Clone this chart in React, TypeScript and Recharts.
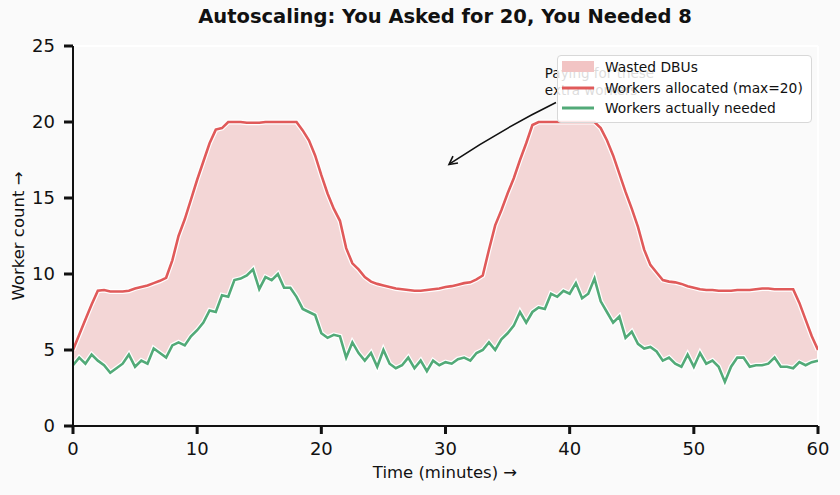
import {
  ComposedChart,
  Area,
  Line,
  XAxis,
  YAxis,
  ReferenceLine,
  ReferenceDot,
} from "recharts";

// sampled every half minute, 0 .. 60
const STEP_MINUTES = 0.5;

const allocated = [
  5.0, 6.0, 7.0, 8.0, 8.9, 8.95, 8.85, 8.85, 8.85, 8.9,
  9.05, 9.15, 9.25, 9.4, 9.55, 9.75, 10.9, 12.5, 13.6, 14.9,
  16.2, 17.4, 18.6, 19.5, 19.6, 20.0, 20.0, 20.0, 19.95, 19.95,
  19.95, 20.0, 20.0, 20.0, 20.0, 20.0, 20.0, 19.45, 18.8, 17.8,
  16.5, 15.3, 14.3, 13.5, 11.7, 10.7, 10.3, 9.8, 9.5, 9.35,
  9.25, 9.15, 9.05, 9.0, 8.95, 8.9, 8.9, 8.95, 9.0, 9.05,
  9.15, 9.2, 9.3, 9.4, 9.45, 9.65, 9.9, 11.6, 13.2, 14.2,
  15.3, 16.3, 17.5, 18.6, 19.8, 20.0, 20.0, 20.0, 20.0, 20.0,
  20.0, 20.0, 20.0, 20.0, 20.0, 19.6, 18.8, 17.8, 16.6, 15.4,
  14.3, 13.1, 11.6, 10.6, 10.1, 9.6, 9.5, 9.45, 9.35, 9.2,
  9.1, 9.0, 8.95, 8.95, 8.9, 8.9, 8.9, 8.95, 8.95, 8.95,
  9.0, 9.05, 9.05, 9.0, 9.0, 9.0, 9.0, 8.1, 7.0, 5.9,
  5.0,
];

const needed = [
  4.0, 4.5, 4.1, 4.7, 4.3, 4.0, 3.5, 3.8, 4.1, 4.7,
  3.9, 4.3, 4.1, 5.1, 4.8, 4.5, 5.3, 5.5, 5.3, 5.9,
  6.3, 6.8, 7.6, 7.5, 8.6, 8.5, 9.6, 9.7, 9.9, 10.3,
  9.0, 9.8, 9.6, 10.0, 9.1, 9.1, 8.5, 7.7, 7.5, 7.3,
  6.1, 5.8, 6.0, 5.9, 4.5, 5.5, 4.8, 4.3, 4.8, 3.9,
  5.0, 4.1, 3.8, 4.0, 4.5, 3.8, 4.3, 3.6, 4.3, 4.0,
  4.2, 4.1, 4.4, 4.5, 4.3, 4.8, 5.0, 5.5, 5.0, 5.7,
  6.1, 6.6, 7.5, 6.8, 7.5, 7.8, 7.7, 8.7, 8.5, 8.9,
  8.7, 9.4, 8.4, 8.7, 9.7, 8.2, 7.5, 6.8, 7.2, 5.8,
  6.2, 5.4, 5.1, 5.2, 4.9, 4.3, 4.5, 4.1, 3.9, 4.7,
  3.9, 4.8, 4.1, 4.3, 3.9, 2.9, 3.9, 4.5, 4.5, 3.9,
  4.0, 4.0, 4.1, 4.5, 3.9, 3.9, 3.8, 4.2, 4.0, 4.2,
  4.3,
];

const xTicks = [0, 10, 20, 30, 40, 50, 60];
const yTicks = [0, 5, 10, 15, 20, 25];

const legendItems = [
  { label: "Wasted DBUs", kind: "patch" },
  { label: "Workers allocated (max=20)", kind: "red" },
  { label: "Workers actually needed", kind: "green" },
];

const RED = "#e05a5a";
const GREEN = "#52aa78";
const FILL = "#e06a6a";
const FONT = "'DejaVu Sans', sans-serif";

const data = allocated.map((a, i) => ({
  minute: i * STEP_MINUTES,
  allocated: a,
  needed: needed[i],
  band: [needed[i], a],
}));

const LegendBox = () => (
  <div
    style={{
      position: "absolute",
      left: 557,
      top: 55,
      width: 255,
      height: 68,
      boxSizing: "border-box",
      background: "rgba(255,255,255,0.85)",
      border: "1px solid #d8d8d8",
      borderRadius: 4,
      padding: "1px 4px 1px 3px",
      fontSize: 13.8,
      color: "#111",
    }}
  >
    {legendItems.map((it) => (
      <div
        key={it.label}
        style={{ display: "flex", alignItems: "center", height: 20.6, whiteSpace: "nowrap" }}
      >
        <svg width={34} height={14} style={{ marginRight: 10, flex: "none" }}>
          {it.kind === "patch" ? (
            <rect x={1} y={1} width={32} height={11} fill="#f2c4c4" />
          ) : (
            <line
              x1={1}
              x2={33}
              y1={7}
              y2={7}
              stroke={it.kind === "red" ? RED : GREEN}
              strokeWidth={3}
            />
          )}
        </svg>
        <span>{it.label}</span>
      </div>
    ))}
  </div>
);

const ArrowShape = (p: any) => {
  const { cx, cy } = p;
  if (cx == null || cy == null) return null;
  return (
    <g>
      <path
        d={`M${cx + 108},${cy - 62} Q${cx + 55},${cy - 36} ${cx + 2},${cy - 1}`}
        fill="none"
        stroke="#111"
        strokeWidth={1.6}
      />
      <path
        d={`M${cx + 10},${cy - 1.5} L${cx + 1},${cy} L${cx + 5},${cy - 8.5}`}
        fill="none"
        stroke="#111"
        strokeWidth={1.6}
      />
    </g>
  );
};

const NoteShape = (p: any) => {
  const { cx, cy } = p;
  if (cx == null || cy == null) return null;
  return (
    <text x={cx} y={cy} fontFamily={FONT} fontSize={13.5} fill="#111">
      <tspan x={cx} dy={0}>Paying for these</tspan>
      <tspan x={cx} dy={17}>extra workers</tspan>
    </text>
  );
};

export default function App() {
  return (
    <div
      style={{
        position: "fixed",
        left: 0,
        top: 0,
        width: 840,
        height: 495,
        background: "#fafafa",
        fontFamily: FONT,
      }}
    >
      <div
        style={{
          position: "absolute",
          top: 5,
          left: 0,
          width: 890,
          textAlign: "center",
          fontWeight: "bold",
          fontSize: 19.5,
          color: "#111",
        }}
      >
        Autoscaling: You Asked for 20, You Needed 8
      </div>
      <div
        style={{
          position: "absolute",
          top: 463,
          left: 0,
          width: 890,
          textAlign: "center",
          fontSize: 16.5,
          color: "#111",
        }}
      >
        Time (minutes) →
      </div>
      <div
        style={{
          position: "absolute",
          left: 18,
          top: 236,
          transform: "translate(-50%, -50%) rotate(-90deg)",
          whiteSpace: "nowrap",
          fontSize: 16.5,
          color: "#111",
        }}
      >
        Worker count →
      </div>
      <ComposedChart
        width={840}
        height={495}
        data={data}
        margin={{ top: 46, right: 22, bottom: 29, left: 13 }}
        style={{ position: "absolute", left: 0, top: 0 }}
      >
        <XAxis
          dataKey="minute"
          type="number"
          domain={[0, 60]}
          ticks={xTicks}
          height={40}
          tickSize={8}
          tickMargin={8}
          axisLine={{ stroke: "#111", strokeWidth: 2 }}
          tickLine={{ stroke: "#111", strokeWidth: 3 }}
          tick={{ fontSize: 18, fill: "#111", fontFamily: FONT }}
          allowDataOverflow
        />
        <YAxis
          type="number"
          domain={[0, 25]}
          ticks={yTicks}
          width={60}
          tickSize={9}
          tickMargin={9}
          axisLine={{ stroke: "#111", strokeWidth: 2 }}
          tickLine={{ stroke: "#111", strokeWidth: 3 }}
          tick={{ fontSize: 18, fill: "#111", fontFamily: FONT }}
          allowDataOverflow
        />
        <ReferenceLine y={25} stroke="#ffffff" strokeWidth={2} />
        <ReferenceLine x={60} stroke="#ffffff" strokeWidth={2} />
        <Area
          dataKey="band"
          type="linear"
          stroke="none"
          fill={FILL}
          fillOpacity={0.25}
          isAnimationActive={false}
          legendType="none"
        />
        <Line
          dataKey="allocated"
          type="linear"
          stroke="#ffffff"
          strokeWidth={5}
          dot={false}
          activeDot={false}
          isAnimationActive={false}
          legendType="none"
        />
        <Line
          dataKey="allocated"
          type="linear"
          stroke={RED}
          strokeWidth={2.6}
          dot={false}
          activeDot={false}
          isAnimationActive={false}
          legendType="none"
        />
        <Line
          dataKey="needed"
          type="linear"
          stroke="#ffffff"
          strokeWidth={5}
          dot={false}
          activeDot={false}
          isAnimationActive={false}
          legendType="none"
        />
        <Line
          dataKey="needed"
          type="linear"
          stroke={GREEN}
          strokeWidth={2.6}
          dot={false}
          activeDot={false}
          isAnimationActive={false}
          legendType="none"
        />
        <ReferenceDot x={38} y={22.9} r={0} shape={NoteShape} />
        <ReferenceDot x={30.2} y={17.2} r={0} shape={ArrowShape} />
      </ComposedChart>
      <LegendBox />
    </div>
  );
}
